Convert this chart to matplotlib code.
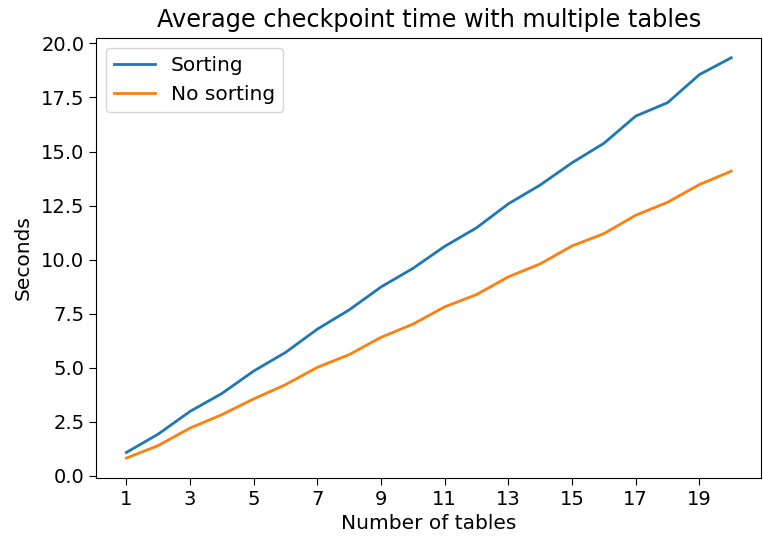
import matplotlib
matplotlib.use("Agg")
import matplotlib.pyplot as plt

tables = list(range(1, 21))
sorting = [1.07, 1.92, 2.97, 3.80, 4.84, 5.70, 6.78, 7.67, 8.73, 9.59,
           10.61, 11.47, 12.58, 13.45, 14.48, 15.38, 16.64, 17.26, 18.56, 19.34]
no_sorting = [0.81, 1.39, 2.20, 2.82, 3.55, 4.21, 5.01, 5.60, 6.40, 7.01,
              7.81, 8.38, 9.20, 9.80, 10.63, 11.20, 12.05, 12.65, 13.47, 14.09]
xticks = list(range(1, 21, 2))

plt.rcParams["font.size"] = 14
plt.rcParams["xtick.major.size"] = 5
plt.rcParams["ytick.major.size"] = 5

fig, ax = plt.subplots(figsize=(7.63, 5.39), dpi=100)
fig.subplots_adjust(left=0.126, right=0.998, top=0.93, bottom=0.113)
ax.plot(tables, sorting, label="Sorting", color="#1f77b4", linewidth=2)
ax.plot(tables, no_sorting, label="No sorting", color="#ff7f0e", linewidth=2)
ax.set_xticks(xticks)
ax.set_yticks([0, 2.5, 5, 7.5, 10, 12.5, 15, 17.5, 20])
ax.set_title("Average checkpoint time with multiple tables", fontsize=17.3, pad=8)
ax.set_xlabel("Number of tables", fontsize=14.5)
ax.set_ylabel("Seconds", fontsize=14.5, labelpad=6)
ax.legend(loc="upper left", fontsize=14.5)
fig.savefig("out.png", dpi=100)
